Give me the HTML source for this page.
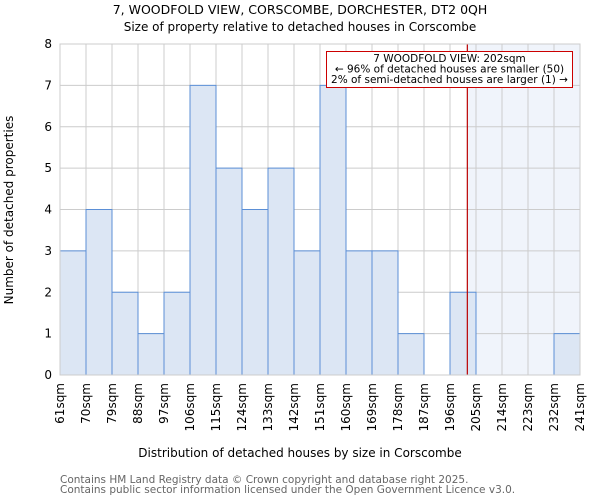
<!DOCTYPE html>
<html><head><meta charset="utf-8"><style>
body{margin:0;background:#fff;font-family:"DejaVu Sans","Liberation Sans",sans-serif}
</style></head><body>
<svg width="600" height="500" xmlns="http://www.w3.org/2000/svg" font-family="DejaVu Sans, Liberation Sans, sans-serif">
<text x="300" y="14" text-anchor="middle" font-size="12.5">7, WOODFOLD VIEW, CORSCOMBE, DORCHESTER, DT2 0QH</text>
<text x="300" y="31" text-anchor="middle" font-size="12">Size of property relative to detached houses in Corscombe</text>
<g id="plot"></g>
<text x="300" y="457" text-anchor="middle" font-size="12">Distribution of detached houses by size in Corscombe</text>
<text transform="translate(13,210) rotate(-90)" text-anchor="middle" font-size="12">Number of detached properties</text>
<text x="60" y="483" font-size="10.5" fill="#666">Contains HM Land Registry data © Crown copyright and database right 2025.</text>
<text x="60" y="493" font-size="10.5" fill="#666">Contains public sector information licensed under the Open Government Licence v3.0.</text>
</svg>
<script>
const categories=["61sqm","70sqm","79sqm","88sqm","97sqm","106sqm","115sqm","124sqm","133sqm","142sqm","151sqm","160sqm","169sqm","178sqm","187sqm","196sqm","205sqm","214sqm","223sqm","232sqm","241sqm"];
const counts=[3,4,2,1,2,7,5,4,5,3,7,3,3,1,0,2,0,0,0,1];
const yTicks=[0,1,2,3,4,5,6,7,8];
const binStart=61, binStep=9, subjectSize=202;
const X0=60,X1=580,Y0=375,Y1=44,N=counts.length;
const bw=(X1-X0)/N;
const sx=v=>X0+(v-binStart)/binStep*bw;
const sy=v=>Y0-(v/8)*(Y0-Y1);
const ns="http://www.w3.org/2000/svg";
const g=document.getElementById('plot');
function mk(t,a){const e=document.createElementNS(ns,t);for(const k in a)e.setAttribute(k,a[k]);g.appendChild(e);return e;}
let e=mk('rect',{x:sx(subjectSize),y:Y1,width:X1-sx(subjectSize),height:Y0-Y1,fill:'#f0f4fb'});


yTicks.forEach(t=>{let l=mk('line',{x1:X0,x2:X1,y1:sy(t),y2:sy(t),stroke:'#ccc','stroke-width':1});


let tx=mk('text',{x:X0-8,y:sy(t)+4,'text-anchor':'end','font-size':12});tx.textContent=t;

});
categories.forEach((c,i)=>{const x=X0+i*bw;
let l=mk('line',{x1:x,x2:x,y1:Y1,y2:Y0,stroke:'#ccc','stroke-width':1});


let tx=mk('text',{transform:`translate(${x+4},${Y0+8}) rotate(-90)`,'text-anchor':'end','font-size':12});tx.textContent=c;

});
counts.forEach((v,i)=>{if(v<=0)return;const r=mk('rect',{x:X0+i*bw,y:sy(v),width:bw,height:Y0-sy(v),fill:'#dce6f4',stroke:'#5b8fd6','stroke-width':1});

});
e=mk('line',{x1:sx(subjectSize),x2:sx(subjectSize),y1:Y1,y2:Y0,stroke:'#b00','stroke-width':1.2});


e=mk('rect',{x:326.5,y:51.5,width:246,height:36,fill:'#fff',stroke:'#c00','stroke-width':1});


["7 WOODFOLD VIEW: 202sqm","← 96% of detached houses are smaller (50)","2% of semi-detached houses are larger (1) →"].forEach((s,i)=>{
let t=mk('text',{x:449.5,y:62+i*10.5,'text-anchor':'middle','font-size':10.5});t.textContent=s;

});
e=mk('rect',{x:X0,y:Y1,width:X1-X0,height:Y0-Y1,fill:'none',stroke:'#ccc'});


</script>
</body></html>
